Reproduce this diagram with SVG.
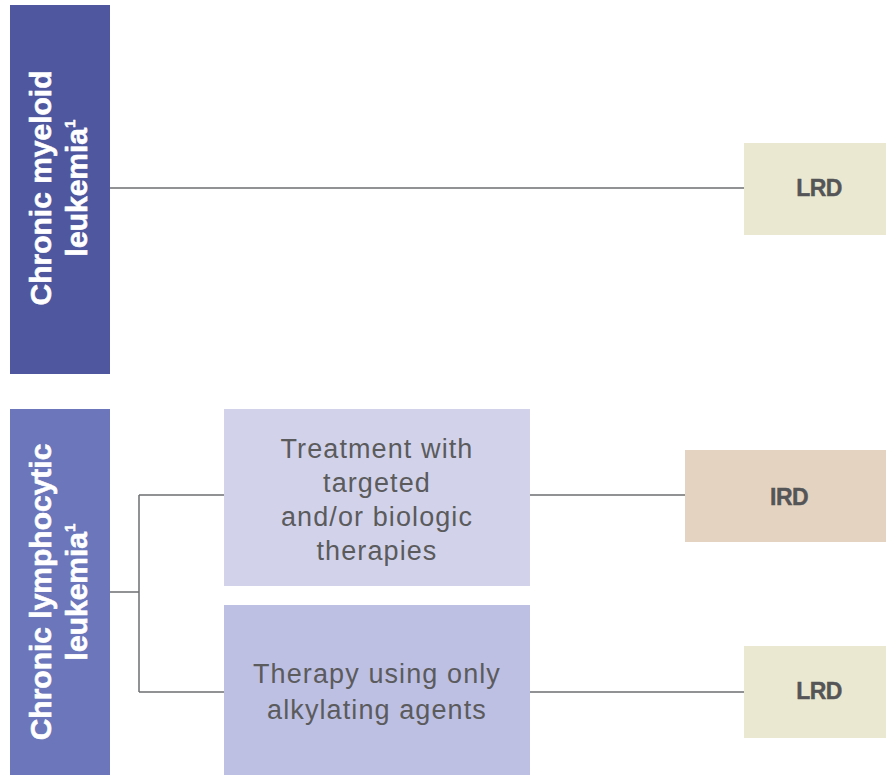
<svg xmlns="http://www.w3.org/2000/svg" width="886" height="775" viewBox="0 0 886 775">
  <style>
    .side { font-family: "Liberation Sans", Arial, sans-serif; font-weight: bold; font-size: 30px; fill: #ffffff; stroke: #ffffff; stroke-width: 0.6; }
    .step { font-family: "Liberation Sans", Arial, sans-serif; font-size: 27px; fill: #5b5b5d; text-anchor: middle; letter-spacing: 1.1px; }
    .out  { font-family: "Liberation Sans", Arial, sans-serif; font-weight: bold; font-size: 23px; fill: #555557; text-anchor: middle; letter-spacing: -0.6px; stroke: #555557; stroke-width: 0.4; }
    .sup  { font-size: 15px; }
    .wire { stroke: #6d6e71; stroke-width: 1.5; fill: none; }
  </style>
  <rect width="886" height="775" fill="#ffffff"/>

  <!-- connectors -->
  <g id="connectors">
    <line class="wire" x1="110" y1="188" x2="744" y2="188"/>
    <line class="wire" x1="110" y1="592" x2="139" y2="592"/>
    <line class="wire" x1="139" y1="495" x2="139" y2="692"/>
    <line class="wire" x1="139" y1="495" x2="224" y2="495"/>
    <line class="wire" x1="139" y1="692" x2="224" y2="692"/>
    <line class="wire" x1="530" y1="495" x2="685" y2="495"/>
    <line class="wire" x1="530" y1="692" x2="744" y2="692"/>
  </g>

  <!-- chronic myeloid leukemia -->
  <g id="cml">
    <rect x="10" y="5" width="100" height="369" fill="#4f589f"/>
    <g transform="translate(0,188) rotate(-90)">
      <text class="side" x="0" y="51" text-anchor="middle">Chronic myeloid</text>
      <text class="side" x="0" y="87" text-anchor="middle">leukemia<tspan class="sup" dy="-12">1</tspan></text>
    </g>
  </g>

  <!-- chronic lymphocytic leukemia -->
  <g id="cll">
    <rect x="10" y="409" width="100" height="366" fill="#6b77ba"/>
    <g transform="translate(0,592) rotate(-90)">
      <text class="side" x="0" y="51" text-anchor="middle">Chronic lymphocytic</text>
      <text class="side" x="0" y="87" text-anchor="middle">leukemia<tspan class="sup" dy="-12">1</tspan></text>
    </g>
  </g>

  <!-- treatment branches -->
  <g id="targeted">
    <rect x="224" y="409" width="306" height="177" fill="#d2d3ea"/>
    <text class="step" x="377" y="458">Treatment with</text>
    <text class="step" x="377" y="492">targeted</text>
    <text class="step" x="377" y="526">and/or biologic</text>
    <text class="step" x="377" y="560">therapies</text>
  </g>

  <g id="alkylating">
    <rect x="224" y="605" width="306" height="170" fill="#bdc0e2"/>
    <text class="step" x="377" y="683">Therapy using only</text>
    <text class="step" x="377" y="719">alkylating agents</text>
  </g>

  <!-- outcomes -->
  <g id="lrd-cml">
    <rect x="744" y="143" width="142" height="92" fill="#eae8d0"/>
    <text class="out" x="819" y="196">LRD</text>
  </g>

  <g id="ird-cll">
    <rect x="685" y="450" width="201" height="92" fill="#e4d3c0"/>
    <text class="out" x="789" y="505">IRD</text>
  </g>

  <g id="lrd-cll">
    <rect x="744" y="646" width="142" height="92" fill="#eae8d0"/>
    <text class="out" x="819" y="699">LRD</text>
  </g>
</svg>
